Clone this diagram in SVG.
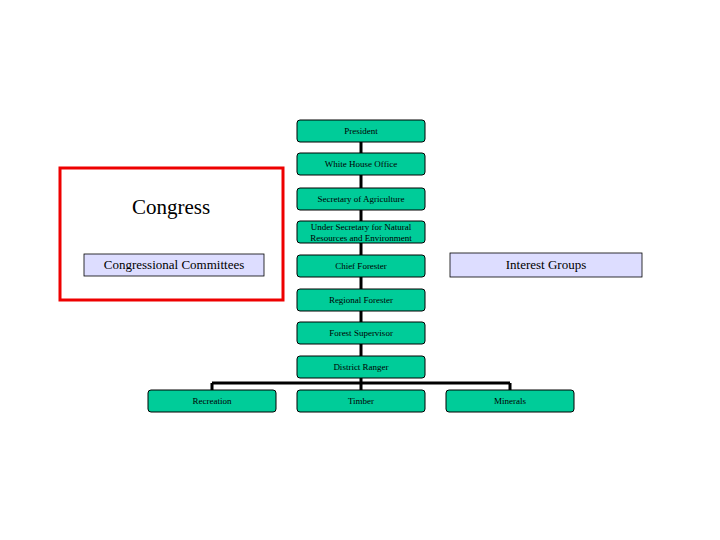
<svg xmlns="http://www.w3.org/2000/svg" width="720" height="540" viewBox="0 0 720 540">
<style>
.n{fill:#00cc99;stroke:#000;stroke-width:1}
.t{font-family:"Liberation Serif",serif;font-size:9px;text-anchor:middle;fill:#000}
.b{fill:#ddddff;stroke:#000;stroke-width:0.8}
.tb{font-family:"Liberation Serif",serif;font-size:13px;text-anchor:middle;fill:#000}
.l{stroke:#000;stroke-width:3;fill:none}
</style>
<rect width="720" height="540" fill="#fff"/>
<g id="connectors">
<path class="l" d="M361 142V390M212 383H510M212 383V390M510 383V390"/>
</g>
<rect x="60" y="168" width="223" height="132" fill="none" stroke="#e00" stroke-width="3"/>
<text x="171" y="214" font-family="Liberation Serif,serif" font-size="21" text-anchor="middle">Congress</text>
<g id="committees"><rect class="b" x="84" y="254" width="180" height="22"/><text class="tb" x="174" y="269">Congressional Committees</text></g>
<g id="interest"><rect class="b" x="450" y="253" width="192" height="24"/><text class="tb" x="546" y="269">Interest Groups</text></g>
<g id="president"><rect class="n" x="297" y="120" width="128" height="22" rx="3"/><text class="t" x="361" y="134">President</text></g>
<g id="who"><rect class="n" x="297" y="153" width="128" height="22" rx="3"/><text class="t" x="361" y="167">White House Office</text></g>
<g id="secag"><rect class="n" x="297" y="188" width="128" height="22" rx="3"/><text class="t" x="361" y="202">Secretary of Agriculture</text></g>
<g id="undersec"><rect class="n" x="297" y="221" width="128" height="22" rx="3"/><text class="t" x="361" y="230">Under Secretary for Natural</text><text class="t" x="361" y="241">Resources and Environment</text></g>
<g id="chief"><rect class="n" x="297" y="255" width="128" height="22" rx="3"/><text class="t" x="361" y="269">Chief Forester</text></g>
<g id="regional"><rect class="n" x="297" y="289" width="128" height="22" rx="3"/><text class="t" x="361" y="303">Regional Forester</text></g>
<g id="supervisor"><rect class="n" x="297" y="322" width="128" height="22" rx="3"/><text class="t" x="361" y="336">Forest Supervisor</text></g>
<g id="ranger"><rect class="n" x="297" y="356" width="128" height="22" rx="3"/><text class="t" x="361" y="370">District Ranger</text></g>
<g id="recreation"><rect class="n" x="148" y="390" width="128" height="22" rx="3"/><text class="t" x="212" y="404">Recreation</text></g>
<g id="timber"><rect class="n" x="297" y="390" width="128" height="22" rx="3"/><text class="t" x="361" y="404">Timber</text></g>
<g id="minerals"><rect class="n" x="446" y="390" width="128" height="22" rx="3"/><text class="t" x="510" y="404">Minerals</text></g>
</svg>
